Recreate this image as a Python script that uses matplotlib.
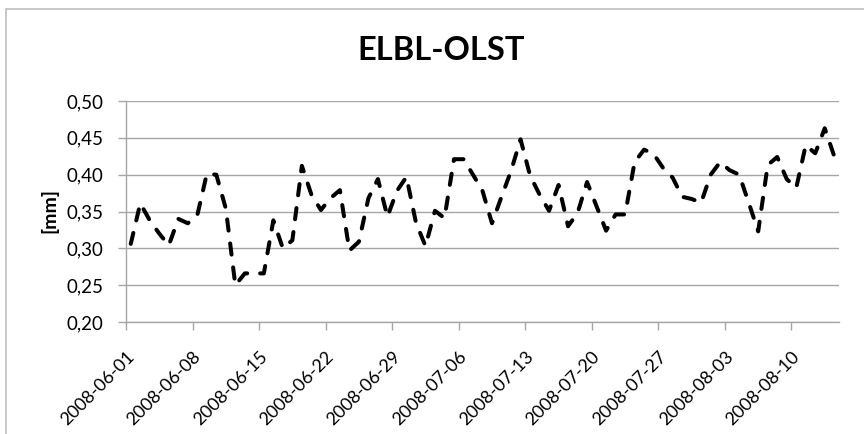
import numpy as np
import matplotlib.pyplot as plt
import matplotlib.transforms as mtransforms
from matplotlib.patches import Rectangle

# daily values, 2008-06-01 .. 2008-08-14
start = np.datetime64('2008-06-01')
end = np.datetime64('2008-08-15')
values = [0.306, 0.361, 0.338, 0.320, 0.304, 0.340, 0.334, 0.345, 0.401, 0.400,
          0.354, 0.250, 0.266, 0.266, 0.266, 0.338, 0.300, 0.311, 0.412, 0.373,
          0.352, 0.368, 0.379, 0.297, 0.309, 0.368, 0.394, 0.343, 0.378, 0.397,
          0.335, 0.303, 0.351, 0.341, 0.421, 0.421, 0.400, 0.378, 0.334, 0.370,
          0.405, 0.448, 0.399, 0.373, 0.351, 0.386, 0.330, 0.348, 0.390, 0.357,
          0.324, 0.346, 0.346, 0.417, 0.434, 0.428, 0.409, 0.396, 0.370, 0.367,
          0.362, 0.400, 0.417, 0.406, 0.400, 0.362, 0.323, 0.413, 0.424, 0.394,
          0.382, 0.440, 0.429, 0.463, 0.425]
tick_labels = ['2008-06-01', '2008-06-08', '2008-06-15', '2008-06-22', '2008-06-29',
               '2008-07-06', '2008-07-13', '2008-07-20', '2008-07-27', '2008-08-03',
               '2008-08-10']
y_ticks = [0.20, 0.25, 0.30, 0.35, 0.40, 0.45, 0.50]

plt.rcParams['font.family'] = ['Lato', 'DejaVu Sans']
grey = '#a6a6a6'

fig = plt.figure(figsize=(8.64, 4.34), dpi=100)
ax = fig.add_axes([126 / 864, 1 - 322 / 434, (839 - 126) / 864, 221 / 434])

# days since start, points sit in the middle of each day slot
days = [(np.datetime64(l) - start).astype(int) for l in tick_labels]
x = np.arange(len(values)) + 0.5
ax.plot(x, values, color='black', lw=2.9, linestyle=(0, (2.8, 3.2)),
        dash_capstyle='round', solid_capstyle='round')

ax.set_xlim(0, (end - start).astype(int))
ax.set_ylim(0.2, 0.5)
ax.set_yticks(y_ticks)
ax.set_yticklabels([f'{v:.2f}'.replace('.', ',') for v in y_ticks], fontsize=13.5)
ax.set_xticks(days)
ax.set_xticklabels(tick_labels, rotation=45, ha='right', rotation_mode='anchor', fontsize=13)
shift = mtransforms.ScaledTranslation(8 / 100, 0, fig.dpi_scale_trans)
for lab in ax.get_xticklabels():
    lab.set_transform(lab.get_transform() + shift)
ax.grid(axis='y', color=grey, lw=1)
ax.set_axisbelow(True)
for s in ['top', 'right']:
    ax.spines[s].set_visible(False)
for s in ['left', 'bottom']:
    ax.spines[s].set_color(grey)
    ax.spines[s].set_linewidth(1)
ax.tick_params(axis='both', color=grey, length=6, width=1)
ax.tick_params(axis='y', pad=10)
ax.tick_params(axis='x', pad=13)

fig.text(49 / 864, 1 - 211 / 434, '[mm]', rotation=90, ha='center', va='center',
         fontsize=14, fontweight='bold')
fig.text(441 / 864, 1 - 51 / 434, 'ELBL-OLST', ha='center', va='center',
         fontsize=23.5, fontweight='bold')

# chart-area frame
fig.patches.append(Rectangle((6 / 864, -0.1), 1.2, 1.1 - 9 / 434,
                             transform=fig.transFigure, fill=False,
                             edgecolor='#bfbfbf', lw=1.2))

fig.savefig('out.png', dpi=100)
